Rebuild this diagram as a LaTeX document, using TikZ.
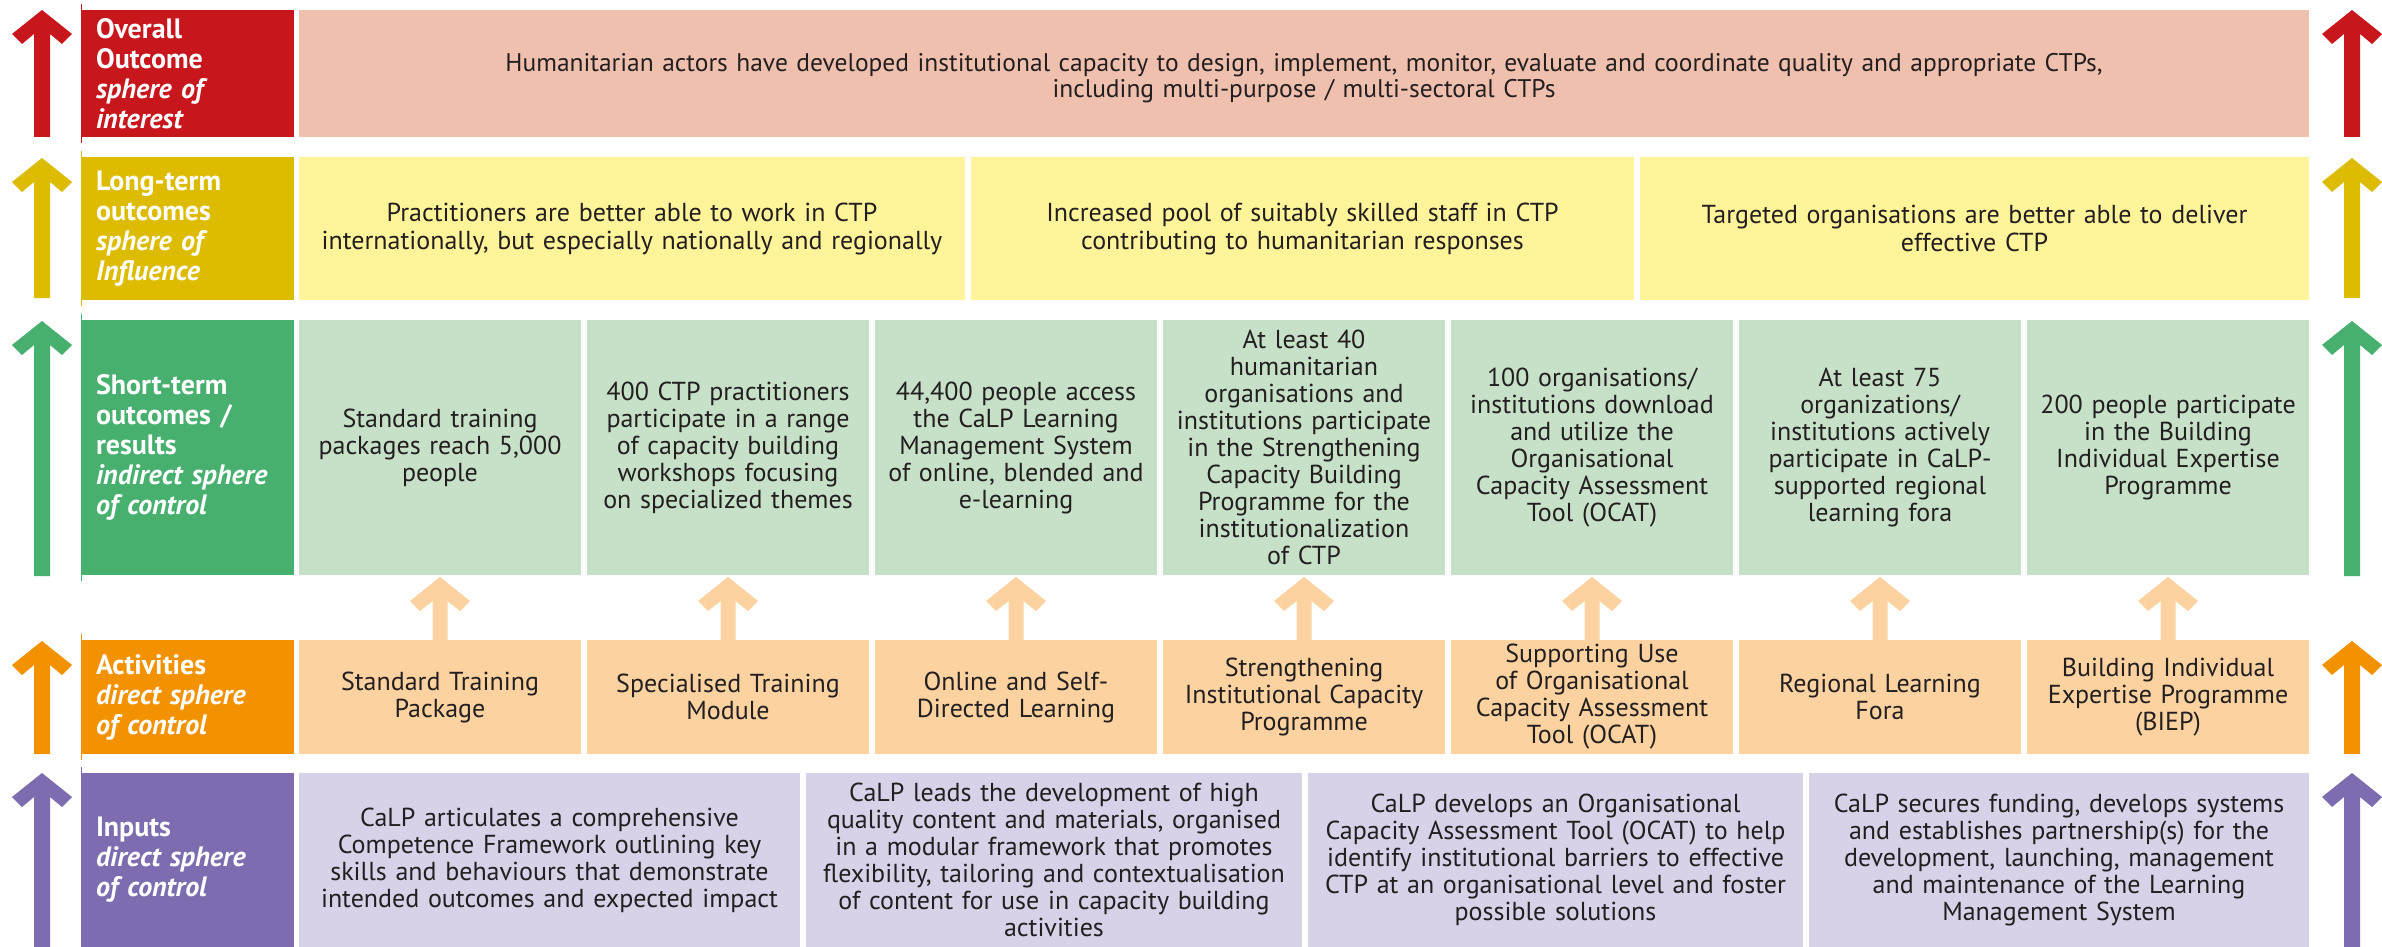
\documentclass[tikz,border=0pt]{standalone}
\usepackage{fontspec}
\setmainfont{PT Sans}
\usetikzlibrary{calc}
\definecolor{cRed}{RGB}{200,22,29}
\definecolor{cPink}{RGB}{240,192,174}
\definecolor{cYel}{RGB}{221,188,0}
\definecolor{cYelL}{RGB}{255,244,153}
\definecolor{cGrn}{RGB}{72,176,111}
\definecolor{cGrnL}{RGB}{199,225,200}
\definecolor{cOra}{RGB}{243,146,0}
\definecolor{cOraL}{RGB}{252,211,160}
\definecolor{cPur}{RGB}{125,109,176}
\definecolor{cPurL}{RGB}{215,210,232}
\definecolor{cTxt}{RGB}{35,31,32}
\newcommand\sidearrow[4]{%
  \fill[#4] (#1,#2) -- ++(30,24) -- ++(-10,10) -- ++(-12,-10) -- (#1+8,#3) -- (#1-8,#3) -- (#1-8,#2+24) -- ++(-12,10) -- ++(-10,-10) -- cycle;}
\newcommand\uparr[2]{%
  \path (#2.south) ++(0,2) coordinate (tip-#2);
  \fill[cOraL] (tip-#2) -- ++(30,24) -- ++(-10,10) -- ++(-12.5,-10) -- ($(#1.north)+(7.5,0)$) -- ($(#1.north)+(-7.5,0)$) -- ($(tip-#2)+(-7.5,24)$) -- ++(-12.5,10) -- ++(-10,-10) -- cycle;}
\begin{document}
\begin{tikzpicture}[x=1pt,y=-1pt,
  labbox/.style={anchor=north west, inner xsep=15pt, inner ysep=0pt, outer sep=0pt,
    minimum width=213pt, text width=183pt, align=left, text=white,
    font=\fontsize{28}{30}\selectfont\bfseries},
  cbox/.style={anchor=north west, inner sep=0pt, outer sep=0pt, align=center, text=cTxt,
    font=\fontsize{26}{27}\selectfont},
  edge/.style={line width=1.5pt}]
\useasboundingbox (0,0) rectangle (2382,947);
\fill[white] (0,0) rectangle (2382,947);

% ---------- side arrows ----------
\sidearrow{42}{10}{137}{cRed}
\sidearrow{2352}{10}{137}{cRed}
\sidearrow{42}{158}{298}{cYel}
\sidearrow{2352}{158}{298}{cYel}
\sidearrow{42}{321}{576}{cGrn}
\sidearrow{2352}{321}{576}{cGrn}
\sidearrow{42}{641}{754}{cOra}
\sidearrow{2352}{641}{754}{cOra}
\sidearrow{42}{773}{947}{cPur}
\sidearrow{2352}{773}{947}{cPur}

% thin left rules
\draw[edge,cRed] (81.5,4) -- (81.5,143);
\draw[edge,cYel] (81.5,151) -- (81.5,306);
\draw[edge,cGrn] (81.5,314) -- (81.5,581);
\draw[edge,cOra] (81.5,634) -- (81.5,760);
\draw[edge,cPur] (81.5,767) -- (81.5,947);

% ---------- label column ----------
\node[labbox, fill=cRed, minimum height=127pt] (L1) at (81,10)
  {Overall\\Outcome\\\textit{sphere of}\\\textit{interest}};
\node[labbox, fill=cYel, minimum height=143pt] (L2) at (81,157)
  {Long-term\\outcomes\\\textit{sphere of}\\\textit{Influence}};
\node[labbox, fill=cGrn, minimum height=255pt] (L3) at (81,320)
  {Short-term\\outcomes /\\results\\\textit{indirect sphere}\\\textit{of control}};
\node[labbox, fill=cOra, minimum height=114pt] (L4) at (81,640)
  {Activities\\\textit{direct sphere}\\\textit{of control}};
\node[labbox, fill=cPur, minimum height=174pt] (L5) at (81,773)
  {Inputs\\\textit{direct sphere}\\\textit{of control}};

% ---------- overall ----------
\node[cbox, fill=cPink, minimum width=2010pt, minimum height=127pt, text width=1990pt,
  font=\fontsize{25.5}{26}\selectfont] (O1) at (299,10)
  {\rule{0pt}{27pt}Humanitarian actors have developed institutional capacity to design, implement, monitor, evaluate and coordinate quality and appropriate CTPs,\\including multi-purpose / multi-sectoral CTPs};

% ---------- long-term ----------
\tikzset{lt/.style={cbox, fill=cYelL, minimum height=143pt, font=\fontsize{26}{28}\selectfont}}
\node[lt, minimum width=666pt, text width=650pt] (T1) at (299,157)
  {Practitioners are better able to work in CTP\\internationally, but especially nationally and regionally};
\node[lt, minimum width=663pt, text width=650pt] (T2) at (971,157)
  {Increased pool of suitably skilled staff in CTP\\contributing to humanitarian responses};
\node[lt, minimum width=669pt, text width=650pt] (T3) at (1640,157)
  {Targeted organisations are better able to deliver\\effective CTP};

% ---------- short-term ----------
\tikzset{st/.style={cbox, fill=cGrnL, minimum width=282pt, minimum height=255pt, text width=276pt}}
\node[st] (S1) at (299,320) {Standard training\\packages reach 5,000\\people};
\node[st] (S2) at (587,320) {400 CTP practitioners\\participate in a range\\of capacity building\\workshops focusing\\on specialized themes};
\node[st] (S3) at (875,320) {44,400 people access\\the CaLP Learning\\Management System\\of online, blended and\\e-learning};
\node[st] (S4) at (1163,320) {At least 40\\humanitarian\\organisations and\\institutions participate\\in the Strengthening\\Capacity Building\\Programme for the\\institutionalization\\of CTP};
\node[st] (S5) at (1451,320) {100 organisations/\\institutions download\\and utilize the\\Organisational\\Capacity Assessment\\Tool (OCAT)};
\node[st] (S6) at (1739,320) {At least 75\\organizations/\\institutions actively\\participate in CaLP-\\supported regional\\learning fora};
\node[st] (S7) at (2027,320) {200 people participate\\in the Building\\Individual Expertise\\Programme};

% ---------- activities ----------
\tikzset{ac/.style={cbox, fill=cOraL, minimum width=282pt, minimum height=114pt, text width=276pt}}
\node[ac] (A1) at (299,640) {Standard Training\\Package};
\node[ac] (A2) at (587,640) {Specialised Training\\Module};
\node[ac] (A3) at (875,640) {Online and Self-\\Directed Learning};
\node[ac] (A4) at (1163,640) {Strengthening\\Institutional Capacity\\Programme};
\node[ac] (A5) at (1451,640) {Supporting Use\\of Organisational\\Capacity Assessment\\Tool (OCAT)};
\node[ac] (A6) at (1739,640) {Regional Learning\\Fora};
\node[ac] (A7) at (2027,640) {Building Individual\\Expertise Programme\\(BIEP)};

% ---------- inputs ----------
\tikzset{ip/.style={cbox, fill=cPurL, minimum height=174pt}}
\node[ip, minimum width=501pt, text width=490pt] (I1) at (299,773)
  {CaLP articulates a comprehensive\\Competence Framework outlining key\\skills and behaviours that demonstrate\\intended outcomes and expected impact};
\node[ip, minimum width=496pt, text width=490pt] (I2) at (806,773)
  {CaLP leads the development of high\\quality content and materials, organised\\in a modular framework that promotes\\flexibility, tailoring and contextualisation\\of content for use in capacity building\\activities};
\node[ip, minimum width=495pt, text width=490pt] (I3) at (1308,773)
  {CaLP develops an Organisational\\Capacity Assessment Tool (OCAT) to help\\identify institutional barriers to effective\\CTP at an organisational level and foster\\possible solutions};
\node[ip, minimum width=500pt, text width=490pt] (I4) at (1809,773)
  {CaLP secures funding, develops systems\\and establishes partnership(s) for the\\development, launching, management\\and maintenance of the Learning\\Management System};

% ---------- small arrows activities -> short-term ----------
\uparr{A1}{S1}
\uparr{A2}{S2}
\uparr{A3}{S3}
\uparr{A4}{S4}
\uparr{A5}{S5}
\uparr{A6}{S6}
\uparr{A7}{S7}
\end{tikzpicture}
\end{document}
